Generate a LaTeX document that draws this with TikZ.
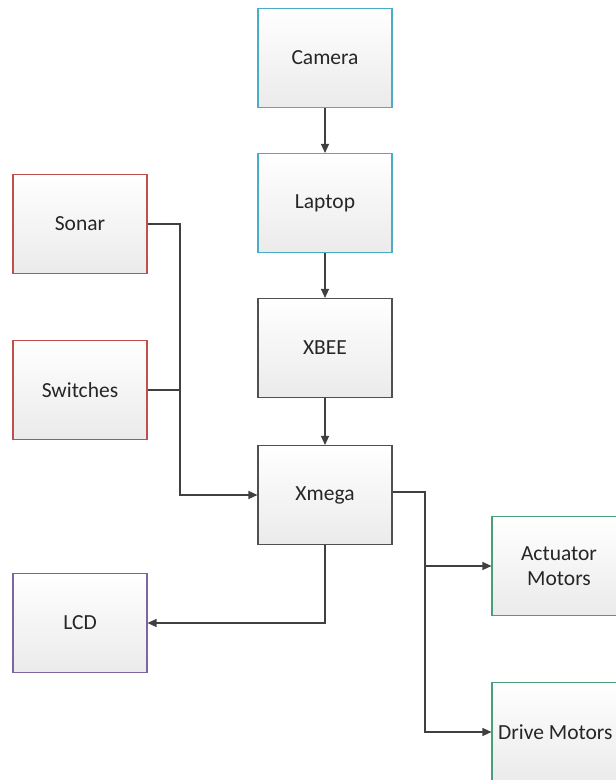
\documentclass[tikz,border=0pt]{standalone}
\usepackage{fontspec}
\setmainfont{Carlito}
\usetikzlibrary{arrows.meta}
\definecolor{cyanb}{HTML}{4BACC6}
\definecolor{redb}{HTML}{C0504D}
\definecolor{purpb}{HTML}{8064A2}
\definecolor{greenb}{HTML}{4A9E7A}
\definecolor{grayb}{HTML}{505050}
\definecolor{linec}{HTML}{404040}
\tikzset{
  blk/.style={draw=#1, line width=1.1pt, minimum width=134pt, minimum height=99pt,
    top color=white, bottom color=black!8, inner sep=2pt, align=center,
    font=\fontsize{21.5}{25}\selectfont, text=black!85},
  conn/.style={draw=linec, line width=1.2pt},
  arr/.style={conn, -{Triangle[length=9pt,width=8pt]}}
}
\begin{document}
\begin{tikzpicture}[x=1pt,y=-1pt]
\useasboundingbox (0,0) rectangle (616,780);
\begin{scope}
\clip (0,0) rectangle (616,780);
\node[blk=cyanb] (cam) at (325,58) {Camera};
\node[blk=cyanb] (lap) at (325,203) {Laptop};
\node[blk=grayb] (xbee) at (325,348) {XBEE};
\node[blk=grayb] (xm) at (325,495) {Xmega};
\node[blk=redb] (son) at (80,224) {Sonar};
\node[blk=redb] (sw) at (80,390) {Switches};
\node[blk=purpb] (lcd) at (80,623) {LCD};
\node[blk=greenb] (act) at (559,566) {Actuator\\Motors};
\node[blk=greenb] (drv) at (559,732) {};
\node[font=\fontsize{21.5}{25}\selectfont, text=black!85, anchor=west, inner sep=0pt] (drvt) at (498,732) {Drive Motors};
\end{scope}
\coordinate (j1) at (180,224);
\coordinate (j2) at (180,390);
\coordinate (j3) at (425,492);
\coordinate (j4) at (425,566);
\draw[arr] (cam) -- (lap);
\draw[arr] (lap) -- (xbee);
\draw[arr] (xbee) -- (xm);
\draw[arr] (son.east) -- (j1) |- (xm.west);
\draw[conn] (sw.east) -- (j2);
\draw[arr] (xm.east |- j3) -- (j3) |- (drv.west);
\draw[arr] (j4) -- (act.west);
\draw[arr] (xm.south) |- (lcd.east);
\end{tikzpicture}
\end{document}
